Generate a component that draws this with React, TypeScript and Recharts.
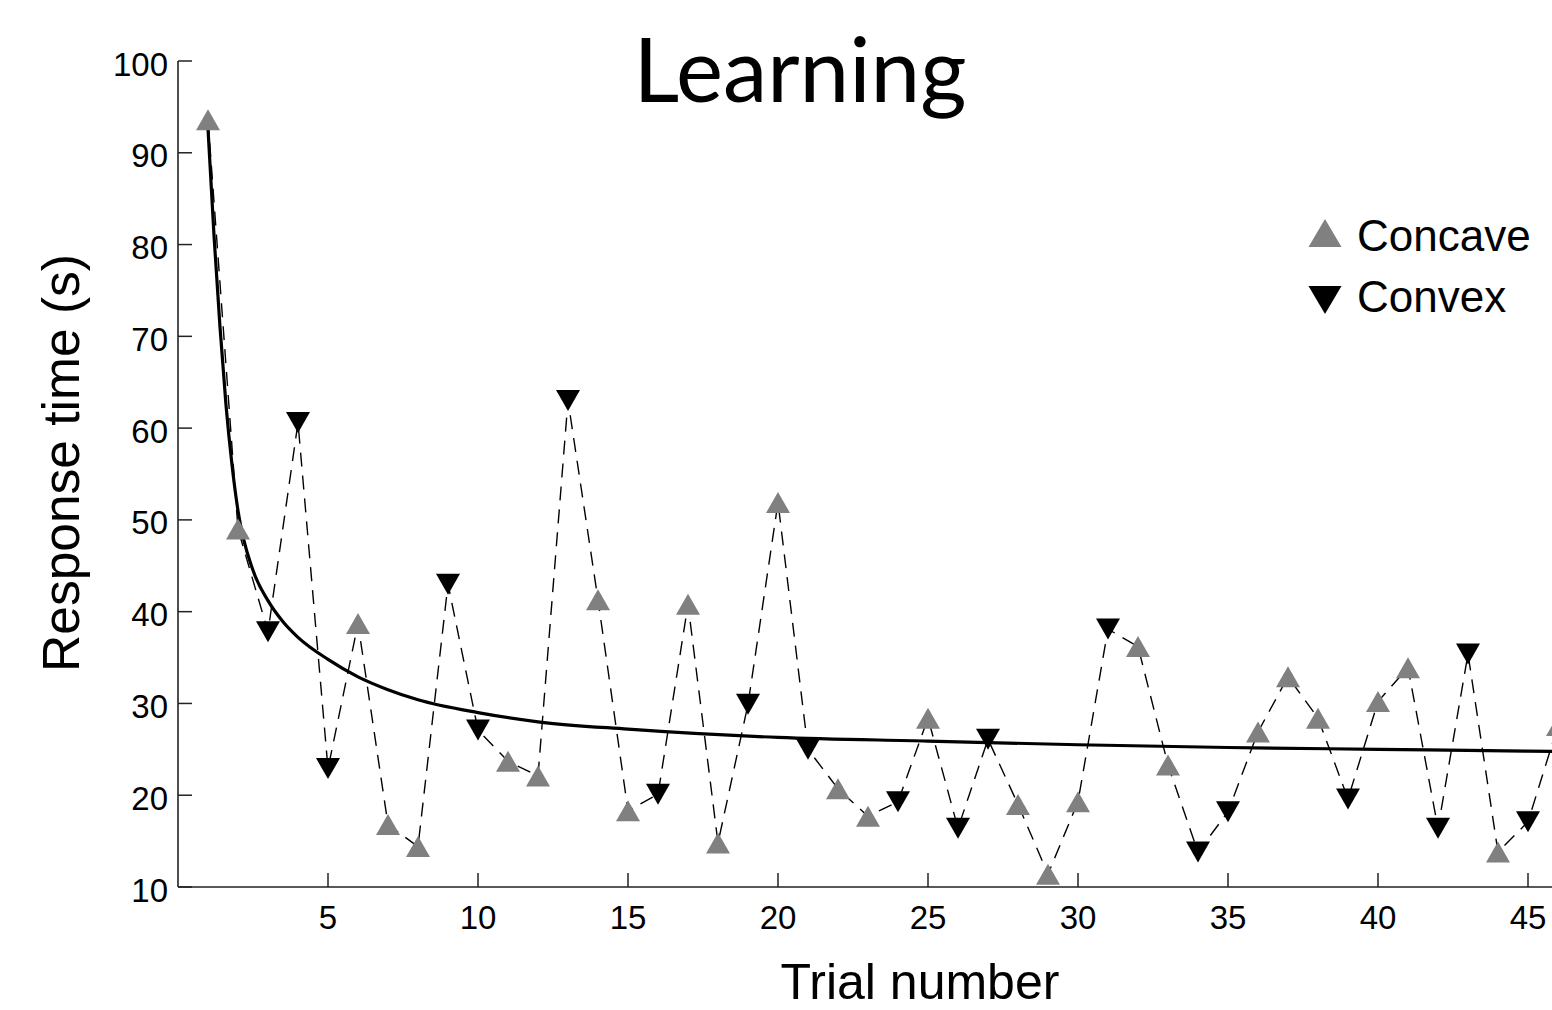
import React from 'react';
import { ComposedChart, Line, Scatter, XAxis, YAxis, Legend, Customized } from 'recharts';

// ---- data ----
const trialNumbers = [
  1, 2, 3, 4, 5, 6, 7, 8, 9, 10,
  11, 12, 13, 14, 15, 16, 17, 18, 19, 20,
  21, 22, 23, 24, 25, 26, 27, 28, 29, 30,
  31, 32, 33, 34, 35, 36, 37, 38, 39, 40,
  41, 42, 43, 44, 45, 46,
];
const responseTimes = [
  93.6, 49.0, 37.8, 60.6, 22.9, 38.7, 16.8, 14.4, 43.0, 27.1,
  23.7, 22.1, 63.0, 41.3, 18.3, 20.1, 40.8, 14.8, 29.9, 51.9,
  25.0, 20.7, 17.7, 19.3, 28.4, 16.4, 26.1, 19.0, 11.4, 19.3,
  38.1, 36.2, 23.3, 13.8, 18.2, 26.9, 32.9, 28.4, 19.6, 30.2,
  33.9, 16.4, 35.4, 13.8, 17.1, 27.6,
];
const conditions = [
  'Concave', 'Concave', 'Convex', 'Convex', 'Convex', 'Concave', 'Concave', 'Concave', 'Convex', 'Convex',
  'Concave', 'Concave', 'Convex', 'Concave', 'Concave', 'Convex', 'Concave', 'Concave', 'Convex', 'Concave',
  'Convex', 'Concave', 'Concave', 'Convex', 'Concave', 'Convex', 'Convex', 'Concave', 'Concave', 'Concave',
  'Convex', 'Concave', 'Concave', 'Convex', 'Convex', 'Concave', 'Concave', 'Concave', 'Convex', 'Concave',
  'Concave', 'Convex', 'Convex', 'Concave', 'Convex', 'Concave',
];
// fitted learning curve
const fitTrials = [1, 1.2, 1.4, 1.6, 1.8, 2, 2.5, 3, 3.5, 4, 5, 6, 7, 8, 10, 12, 15, 20, 25, 30, 35, 40, 45, 50];
const fitTimes = [92.6, 81, 71, 62.5, 56, 51, 44.5, 41.2, 38.9, 37.2, 34.8, 32.9, 31.5, 30.4, 29.0, 28.0, 27.2, 26.3, 25.9, 25.5, 25.2, 25.0, 24.8, 24.65];

const xTicks = [5, 10, 15, 20, 25, 30, 35, 40, 45];
const yTicks = [10, 20, 30, 40, 50, 60, 70, 80, 90, 100];
const legendItems = ['Concave', 'Convex'];

// ---- derived tables ----
const allData = trialNumbers.map((t, i) => ({ trial: t, time: responseTimes[i] }));
const concaveData = allData.filter((_, i) => conditions[i] === 'Concave');
const convexData = allData.filter((_, i) => conditions[i] === 'Convex');
const fitData = fitTrials.map((t, i) => ({ trial: t, fit: fitTimes[i] }));

const FONT = '"Liberation Sans", Arial, Helvetica, sans-serif';
const TITLE_FONT = 'Lato, "Noto Sans", sans-serif';
const AXIS = '#222';
const GRAY = '#808080';

const tri = (cx: number, cy: number, hw: number, hh: number, up: boolean) =>
  up
    ? `M${cx},${cy - hh}L${cx + hw},${cy + hh}L${cx - hw},${cy + hh}Z`
    : `M${cx},${cy + hh}L${cx + hw},${cy - hh}L${cx - hw},${cy - hh}Z`;

const UpMark = (p: any) => <path d={tri(p.cx, p.cy, 12, 10.5, true)} fill={GRAY} />;
const DownMark = (p: any) => <path d={tri(p.cx, p.cy, 12, 10.5, false)} fill="#000" />;

const YTick = (props: any) => {
  const { x, y, payload } = props;
  return (
    <g>
      <line x1={x} y1={y} x2={x + 14} y2={y} stroke={AXIS} strokeWidth={1.5} />
      <text x={x - 10} y={y + 14.5} textAnchor="end" fontSize={33} fontFamily={FONT} fill="#000">
        {payload.value}
      </text>
    </g>
  );
};

const XTick = (props: any) => {
  const { x, y, payload } = props;
  return (
    <g>
      <line x1={x} y1={y} x2={x} y2={y - 14} stroke={AXIS} strokeWidth={1.5} />
      <text x={x} y={y + 42} textAnchor="middle" fontSize={33} fontFamily={FONT} fill="#000">
        {payload.value}
      </text>
    </g>
  );
};

const renderLegend = () => (
  <svg width={250} height={120} style={{ display: 'block' }}>
    {legendItems.map((name, i) => {
      const cy = i === 0 ? 28 : 95;
      return (
        <g key={name}>
          <path d={tri(25, cy, 16.5, 14, i === 0)} fill={i === 0 ? GRAY : '#000'} />
          <text x={57} y={i === 0 ? 46 : 106.5} fontSize={44} fontFamily={FONT} fill="#000">
            {name}
          </text>
        </g>
      );
    })}
  </svg>
);

const Texts = () => (
  <g>
    <text x={800} y={102} textAnchor="middle" fontSize={89} fontFamily={TITLE_FONT} fill="#000">
      Learning
    </text>
    <text x={920} y={999} textAnchor="middle" fontSize={50} fontFamily={FONT} fill="#000">
      Trial number
    </text>
    <text
      x={79}
      y={463}
      textAnchor="middle"
      fontSize={51.5}
      fontFamily={FONT}
      fill="#000"
      transform="rotate(-90, 79, 463)"
    >
      Response time (s)
    </text>
  </g>
);

export default function App() {
  return (
    <div
      style={{
        position: 'fixed',
        left: 0,
        top: 0,
        width: 1552,
        height: 1010,
        overflow: 'hidden',
        background: '#fff',
      }}
    >
      <ComposedChart width={1700} height={1010} margin={{ top: 61, right: 22, bottom: 0, left: 0 }}>
        <XAxis
          type="number"
          dataKey="trial"
          domain={[0, 50]}
          ticks={xTicks}
          interval={0}
          height={123}
          tickSize={0}
          tickMargin={0}
          tickLine={false}
          tick={<XTick />}
          axisLine={{ stroke: AXIS, strokeWidth: 1.6 }}
          allowDataOverflow
        />
        <YAxis
          type="number"
          dataKey="time"
          domain={[10, 100]}
          ticks={yTicks}
          interval={0}
          width={178}
          tickSize={0}
          tickMargin={0}
          tickLine={false}
          tick={<YTick />}
          axisLine={{ stroke: AXIS, strokeWidth: 1.6 }}
          allowDataOverflow
        />
        <Line
          data={allData}
          dataKey="time"
          type="linear"
          stroke="#000"
          strokeWidth={1.4}
          strokeDasharray="14 9"
          dot={false}
          activeDot={false}
          isAnimationActive={false}
          legendType="none"
        />
        <Scatter data={concaveData} dataKey="time" name="Concave" shape={UpMark} isAnimationActive={false} />
        <Scatter data={convexData} dataKey="time" name="Convex" shape={DownMark} isAnimationActive={false} />
        <Line
          data={fitData}
          dataKey="fit"
          type="monotone"
          stroke="#000"
          strokeWidth={3.2}
          dot={false}
          activeDot={false}
          isAnimationActive={false}
          legendType="none"
        />
        <Legend
          layout="vertical"
          align="center"
          verticalAlign="middle"
          content={renderLegend}
          wrapperStyle={{ position: 'absolute', left: 1300, top: 205, width: 250, height: 120 }}
        />
        <Customized component={Texts} />
      </ComposedChart>
    </div>
  );
}
